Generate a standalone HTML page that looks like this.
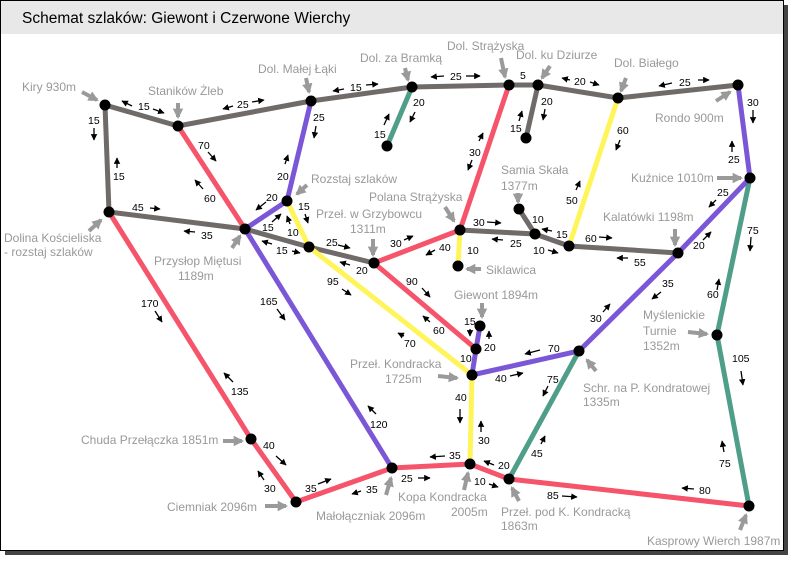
<!DOCTYPE html>
<html><head><meta charset="utf-8"><style>
html,body{margin:0;padding:0;background:#fff;}
svg{display:block;font-family:"Liberation Sans",Arial,sans-serif;}
.g{fill:#999;font-size:12px;}
.n{fill:#000;font-size:10.5px;}
.e{fill:none;stroke-width:5;stroke-linecap:round;}
.a{stroke:#000;stroke-width:1.3;marker-end:url(#ah);}
.p{stroke:#9a9a9a;stroke-width:4;marker-end:url(#gh);}
</style></head><body>
<svg width="805" height="570" viewBox="0 0 805 570" xmlns="http://www.w3.org/2000/svg">
<defs>
<marker id="ah" viewBox="0 0 10 10" refX="9" refY="5" markerWidth="5" markerHeight="5" orient="auto" markerUnits="strokeWidth"><path d="M0,0L10,5L0,10z" fill="#000"/></marker>
<marker id="gh" viewBox="0 0 10 10" refX="8" refY="5" markerWidth="2.6" markerHeight="3" orient="auto" markerUnits="strokeWidth"><path d="M0,0L10,5L0,10z" fill="#9a9a9a"/></marker>
</defs>
<rect x="5" y="5" width="783" height="550" fill="#444"/>
<rect x="0.5" y="0.5" width="783" height="550" fill="#fff" stroke="#000"/>
<rect x="1" y="1" width="782" height="33" fill="#e8e8e8"/>
<text x="22" y="23" font-size="15.5" fill="#000">Schemat szlaków: Giewont i Czerwone Wierchy</text>

<!-- gray -->
<g class="e" stroke="#706a68">
<polyline points="105,105 178,126 311,101 412,87 509,85 538,85 618,98 738,85"/>
<polyline points="105,105 109,212 245,229 309,247 374,263"/>
<polyline points="460,230 535,234 569,246 678,253"/>
<line x1="519" y1="209" x2="535" y2="234"/>
<line x1="538" y1="85" x2="526" y2="138"/>
</g>
<!-- green -->
<g class="e" stroke="#4f9e8a">
<line x1="412" y1="87" x2="387" y2="146"/>
<polyline points="750,178 717,335 749,506"/>
<line x1="579" y1="351" x2="509" y2="479"/>
</g>
<!-- red -->
<g class="e" stroke="#f5546a">
<line x1="178" y1="126" x2="245" y2="229"/>
<polyline points="509,85 460,230 374,263 476,349"/>
<polyline points="109,212 251,439 296,502 392,468 470,464 509,479 749,506"/>
</g>
<!-- purple -->
<g class="e" stroke="#7b57d8">
<polyline points="311,101 287,201 245,229 392,468"/>
<polyline points="480,326 476,349 472,375 579,351 678,253 750,178 738,85"/>
</g>
<!-- yellow -->
<g class="e" stroke="#fff55a">
<line x1="618" y1="98" x2="569" y2="246"/>
<polyline points="287,201 309,247 472,375 470,464"/>
<line x1="460" y1="230" x2="458" y2="266"/>
</g>

<!-- nodes -->
<g fill="#000">
<circle cx="105" cy="105" r="5.5"/><circle cx="178" cy="126" r="5.5"/><circle cx="311" cy="101" r="5.5"/>
<circle cx="412" cy="87" r="5.5"/><circle cx="509" cy="85" r="5.5"/><circle cx="538" cy="85" r="5.5"/>
<circle cx="618" cy="98" r="5.5"/><circle cx="738" cy="85" r="5.5"/><circle cx="387" cy="146" r="5.5"/>
<circle cx="526" cy="138" r="5.5"/><circle cx="109" cy="212" r="5.5"/><circle cx="245" cy="229" r="5.5"/>
<circle cx="287" cy="201" r="5.5"/><circle cx="309" cy="247" r="5.5"/><circle cx="374" cy="263" r="5.5"/>
<circle cx="460" cy="230" r="5.5"/><circle cx="458" cy="266" r="5.5"/><circle cx="519" cy="209" r="5.5"/>
<circle cx="535" cy="234" r="5.5"/><circle cx="569" cy="246" r="5.5"/><circle cx="678" cy="253" r="5.5"/>
<circle cx="750" cy="178" r="5.5"/><circle cx="717" cy="335" r="5.5"/><circle cx="749" cy="506" r="5.5"/>
<circle cx="480" cy="326" r="5.5"/><circle cx="476" cy="349" r="5.5"/><circle cx="472" cy="375" r="5.5"/>
<circle cx="579" cy="351" r="5.5"/><circle cx="470" cy="464" r="5.5"/><circle cx="509" cy="479" r="5.5"/>
<circle cx="392" cy="468" r="5.5"/><circle cx="296" cy="502" r="5.5"/><circle cx="251" cy="439" r="5.5"/>
</g>

<!-- gray pointer arrows -->
<g class="p">
<line x1="82" y1="92" x2="97" y2="100"/>
<line x1="178" y1="103" x2="178" y2="117"/>
<line x1="306" y1="78" x2="309" y2="92"/>
<line x1="405" y1="68" x2="408" y2="80"/>
<line x1="501" y1="58" x2="505" y2="77"/>
<line x1="550" y1="66" x2="542" y2="78"/>
<line x1="626" y1="78" x2="621" y2="91"/>
<line x1="716" y1="101" x2="730" y2="92"/>
<line x1="307" y1="185" x2="297" y2="194"/>
<line x1="373" y1="239" x2="373" y2="255"/>
<line x1="445" y1="207" x2="454" y2="221"/>
<line x1="518" y1="193" x2="518" y2="202"/>
<line x1="481" y1="269" x2="467" y2="269"/>
<line x1="717" y1="178" x2="741" y2="178"/>
<line x1="675" y1="229" x2="675" y2="245"/>
<line x1="89" y1="231" x2="101" y2="220"/>
<line x1="232" y1="248" x2="240" y2="236"/>
<line x1="223" y1="441" x2="242" y2="441"/>
<line x1="265" y1="506" x2="286" y2="506"/>
<line x1="386" y1="495" x2="391" y2="478"/>
<line x1="464" y1="490" x2="468" y2="473"/>
<line x1="519" y1="501" x2="512" y2="488"/>
<line x1="740" y1="530" x2="746" y2="515"/>
<line x1="482" y1="303" x2="482" y2="317"/>
<line x1="438" y1="376" x2="457" y2="378"/>
<line x1="596" y1="371" x2="587" y2="360"/>
<line x1="688" y1="332" x2="707" y2="334"/>
</g>

<!-- gray labels -->
<g class="g">
<text x="22" y="91">Kiry 930m</text>
<text x="148" y="95">Staników Żleb</text>
<text x="258" y="73">Dol. Małej Łąki</text>
<text x="360" y="62">Dol. za Bramką</text>
<text x="447" y="50">Dol. Strążyska</text>
<text x="516" y="59">Dol. ku Dziurze</text>
<text x="614" y="67">Dol. Białego</text>
<text x="655" y="122">Rondo 900m</text>
<text x="311" y="183">Rozstaj szlaków</text>
<text x="316" y="218">Przeł. w Grzybowcu</text>
<text x="350" y="233">1311m</text>
<text x="369" y="201">Polana Strążyska</text>
<text x="501" y="174">Samia Skała</text>
<text x="501" y="190">1377m</text>
<text x="486" y="274">Siklawica</text>
<text x="631" y="182">Kuźnice 1010m</text>
<text x="603" y="221">Kalatówki 1198m</text>
<text x="4" y="242">Dolina Kościeliska</text>
<text x="4" y="256">- rozstaj szlaków</text>
<text x="154" y="265">Przysłop Miętusi</text>
<text x="178" y="280">1189m</text>
<text x="454" y="299">Giewont 1894m</text>
<text x="350" y="368">Przeł. Kondracka</text>
<text x="385" y="383">1725m</text>
<text x="583" y="392">Schr. na P. Kondratowej</text>
<text x="583" y="406">1335m</text>
<text x="643" y="319">Myślenickie</text>
<text x="643" y="335">Turnie</text>
<text x="643" y="350">1352m</text>
<text x="81" y="444">Chuda Przełączka 1851m</text>
<text x="167" y="511">Ciemniak 2096m</text>
<text x="316" y="520">Małołączniak 2096m</text>
<text x="398" y="501">Kopa Kondracka</text>
<text x="451" y="516">2005m</text>
<text x="501" y="516">Przeł. pod K. Kondracką</text>
<text x="501" y="530">1863m</text>
<text x="647" y="545">Kasprowy Wierch 1987m</text>
</g>

<!-- numbers -->
<g class="n">
<text x="138" y="110">15</text><text x="237" y="108">25</text><text x="350" y="91">15</text>
<text x="450" y="80">25</text><text x="520" y="79">5</text><text x="574" y="85">20</text>
<text x="679" y="86">25</text><text x="413" y="106">20</text><text x="374" y="138">15</text>
<text x="541" y="105">20</text><text x="510" y="132">15</text><text x="469" y="156">30</text>
<text x="617" y="134">60</text><text x="566" y="204">50</text><text x="747" y="106">30</text>
<text x="728" y="163">25</text><text x="88" y="124">15</text><text x="113" y="180">15</text>
<text x="198" y="149">70</text><text x="204" y="202">60</text><text x="313" y="121">25</text>
<text x="277" y="180">20</text><text x="266" y="201">20</text><text x="262" y="231">15</text>
<text x="287" y="236">10</text><text x="298" y="210">15</text><text x="132" y="211">45</text>
<text x="201" y="239">35</text><text x="276" y="254">15</text><text x="326" y="246">25</text>
<text x="356" y="274">20</text><text x="390" y="247">30</text><text x="439" y="251">40</text>
<text x="473" y="226">30</text><text x="510" y="247">25</text><text x="467" y="254">10</text>
<text x="532" y="223">10</text><text x="556" y="238">15</text><text x="533" y="254">10</text>
<text x="585" y="242">60</text><text x="634" y="266">55</text><text x="717" y="196">25</text>
<text x="693" y="249">20</text><text x="747" y="234">75</text><text x="707" y="298">60</text>
<text x="732" y="362">105</text><text x="719" y="467">75</text><text x="662" y="287">35</text>
<text x="590" y="322">30</text><text x="548" y="352">70</text><text x="495" y="382">40</text>
<text x="547" y="383">75</text><text x="531" y="457">45</text><text x="464" y="325">15</text>
<text x="484" y="351">20</text><text x="460" y="362">10</text><text x="406" y="285">90</text>
<text x="433" y="334">60</text><text x="327" y="285">95</text><text x="404" y="347">70</text>
<text x="455" y="401">40</text><text x="478" y="444">30</text><text x="260" y="305">165</text>
<text x="370" y="428">120</text><text x="141" y="307">170</text><text x="231" y="395">135</text>
<text x="263" y="449">40</text><text x="264" y="492">30</text><text x="305" y="492">35</text>
<text x="366" y="493">35</text><text x="401" y="482">25</text><text x="449" y="459">35</text>
<text x="498" y="469">20</text><text x="474" y="485">10</text><text x="547" y="499">85</text>
<text x="699" y="494">80</text>
</g>

<!-- small black arrows -->
<g class="a">
<line x1="132" y1="106" x2="122" y2="101"/><line x1="153" y1="109" x2="164" y2="113"/>
<line x1="233" y1="106" x2="223" y2="109"/><line x1="252" y1="102" x2="264" y2="100"/>
<line x1="344" y1="89" x2="333" y2="91"/><line x1="366" y1="85" x2="378" y2="84"/>
<line x1="444" y1="76" x2="431" y2="77"/><line x1="466" y1="76" x2="480" y2="76"/>
<line x1="570" y1="80" x2="562" y2="78"/><line x1="590" y1="82" x2="599" y2="85"/>
<line x1="672" y1="83" x2="659" y2="86"/><line x1="698" y1="80" x2="709" y2="80"/>
<line x1="415" y1="112" x2="410" y2="122"/><line x1="384" y1="125" x2="389" y2="114"/>
<line x1="545" y1="109" x2="543" y2="120"/><line x1="519" y1="121" x2="522" y2="111"/>
<line x1="479" y1="141" x2="483" y2="133"/><line x1="472" y1="160" x2="468" y2="170"/>
<line x1="620" y1="140" x2="616" y2="150"/><line x1="576" y1="190" x2="580" y2="181"/>
<line x1="753" y1="110" x2="753" y2="123"/><line x1="732" y1="152" x2="732" y2="141"/>
<line x1="94" y1="128" x2="94" y2="140"/><line x1="117" y1="168" x2="117" y2="158"/>
<line x1="208" y1="152" x2="216" y2="161"/><line x1="203" y1="189" x2="195" y2="180"/>
<line x1="316" y1="126" x2="314" y2="138"/><line x1="285" y1="164" x2="288" y2="155"/>
<line x1="266" y1="202" x2="256" y2="210"/><line x1="272" y1="222" x2="281" y2="214"/>
<line x1="290" y1="224" x2="287" y2="216"/><line x1="305" y1="214" x2="308" y2="223"/>
<line x1="150" y1="208" x2="160" y2="209"/><line x1="195" y1="232" x2="184" y2="231"/>
<line x1="272" y1="244" x2="262" y2="241"/><line x1="292" y1="251" x2="300" y2="253"/>
<line x1="338" y1="245" x2="350" y2="248"/><line x1="350" y1="265" x2="340" y2="262"/>
<line x1="404" y1="240" x2="413" y2="236"/><line x1="435" y1="250" x2="426" y2="255"/>
<line x1="487" y1="222" x2="501" y2="223"/><line x1="503" y1="240" x2="492" y2="239"/>
<line x1="552" y1="231" x2="542" y2="229"/><line x1="548" y1="250" x2="558" y2="253"/>
<line x1="599" y1="237" x2="612" y2="238"/><line x1="628" y1="258" x2="617" y2="258"/>
<line x1="716" y1="200" x2="709" y2="207"/><line x1="703" y1="240" x2="711" y2="232"/>
<line x1="751" y1="237" x2="750" y2="251"/><line x1="717" y1="290" x2="719" y2="279"/>
<line x1="741" y1="371" x2="743" y2="385"/><line x1="724" y1="452" x2="722" y2="441"/>
<line x1="661" y1="292" x2="652" y2="299"/><line x1="603" y1="312" x2="610" y2="304"/>
<line x1="540" y1="350" x2="525" y2="354"/><line x1="510" y1="376" x2="523" y2="373"/>
<line x1="548" y1="386" x2="543" y2="396"/><line x1="541" y1="444" x2="545" y2="436"/>
<line x1="470" y1="329" x2="470" y2="336"/><line x1="489" y1="339" x2="489" y2="331"/>
<line x1="422" y1="288" x2="430" y2="297"/><line x1="430" y1="322" x2="423" y2="316"/>
<line x1="342" y1="289" x2="351" y2="295"/><line x1="404" y1="336" x2="398" y2="333"/>
<line x1="460" y1="409" x2="460" y2="423"/><line x1="481" y1="432" x2="481" y2="421"/>
<line x1="277" y1="309" x2="285" y2="320"/><line x1="376" y1="414" x2="368" y2="406"/>
<line x1="155" y1="311" x2="162" y2="322"/><line x1="233" y1="382" x2="224" y2="373"/>
<line x1="276" y1="456" x2="286" y2="465"/><line x1="264" y1="480" x2="258" y2="471"/>
<line x1="318" y1="484" x2="331" y2="479"/><line x1="361" y1="491" x2="352" y2="494"/>
<line x1="418" y1="478" x2="430" y2="478"/><line x1="445" y1="456" x2="430" y2="457"/>
<line x1="494" y1="465" x2="484" y2="461"/><line x1="489" y1="484" x2="498" y2="487"/>
<line x1="562" y1="496" x2="577" y2="497"/><line x1="694" y1="489" x2="682" y2="488"/>
</g>
</svg>
</body></html>
